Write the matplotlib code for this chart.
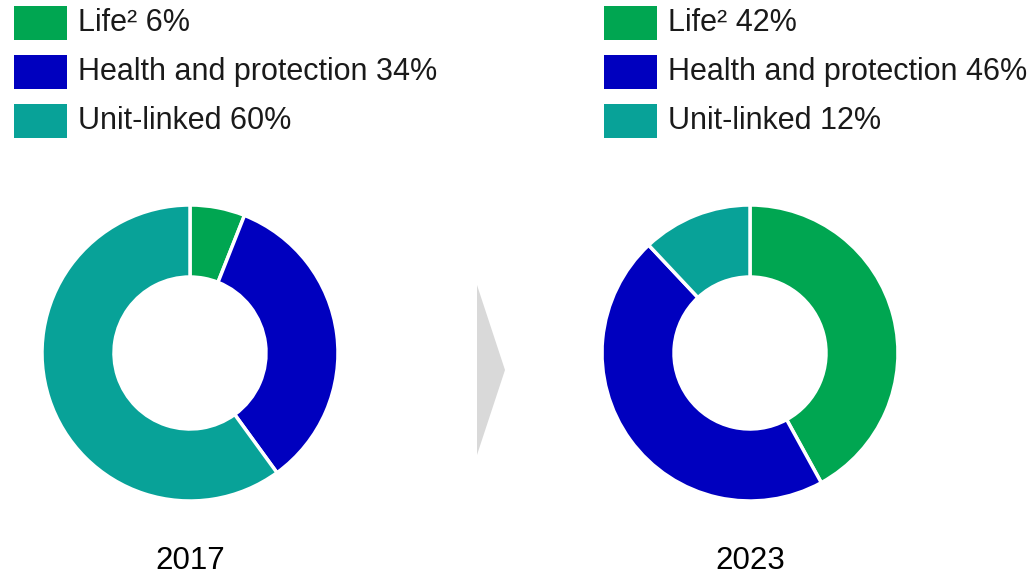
import matplotlib.pyplot as plt
from matplotlib.patches import Rectangle, Polygon

years = ['2017', '2023']
categories = ['Life²', 'Health and protection', 'Unit-linked']
shares_2017 = [6, 34, 60]
shares_2023 = [42, 46, 12]
colors = ['#00A651', '#0000BF', '#08A298']

W, H = 1031, 577
plt.rcParams['font.family'] = ['Liberation Sans', 'DejaVu Sans']

fig = plt.figure(figsize=(W / 100, H / 100), dpi=100)
ax = fig.add_axes([0, 0, 1, 1])


def y(py):
    # pixel row measured from the top -> data y
    return H - py


panels = [(190, 14, shares_2017), (750, 604, shares_2023)]
for (cx, lx, shares), year in zip(panels, years):
    ax.pie(shares, colors=colors, center=(cx, y(353)), radius=148,
           startangle=90, counterclock=False,
           wedgeprops=dict(width=72, edgecolor='white', linewidth=2.5))
    ax.text(cx, y(561), year, ha='center', va='center', fontsize=22.5)

    # legend block above each donut
    for i, (cat, val) in enumerate(zip(categories, shares)):
        top = 6 + i * 49
        ax.add_patch(Rectangle((lx, y(top + 34)), 53, 34, color=colors[i], lw=0))
        ax.text(lx + 64, y(top + 17), f'{cat} {val}%', ha='left', va='center',
                fontsize=22, color='#1a1a1a')

# arrow between the two years
ax.add_patch(Polygon([(477, y(285)), (505, y(370)), (477, y(455))],
                     closed=True, color='#D9D9D9', lw=0))

ax.set_xlim(0, W)
ax.set_ylim(0, H)
ax.set_aspect('equal')
ax.axis('off')

fig.savefig('out.png', dpi=100)
